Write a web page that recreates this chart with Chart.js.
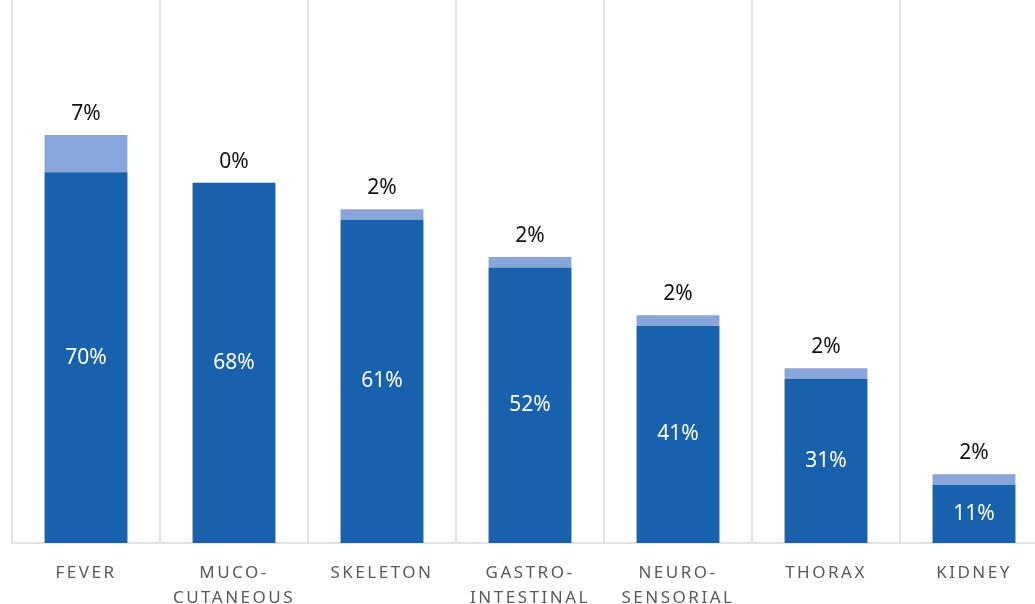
<!DOCTYPE html>
<html>
<head>
<meta charset="utf-8">
<script src="https://cdn.jsdelivr.net/npm/chart.js@4"></script>
<style>
  body { margin: 0; background: #fff; overflow: hidden; }
  #wrap { width: 1060px; height: 604px; position: relative; }
</style>
</head>
<body>
<div id="wrap"><canvas id="chart"></canvas></div>
<script>
// categories + values (percent)
const categories = [['FEVER'], ['MUCO-', 'CUTANEOUS'], ['SKELETON'], ['GASTRO-', 'INTESTINAL'], ['NEURO-', 'SENSORIAL'], ['THORAX'], ['KIDNEY']];
const mainValues = [70, 68, 61, 52, 41, 31, 11];
const extraValues = [7, 0, 2, 2, 2, 2, 2];

const darkBlue = '#1862ad';
const lightBlue = '#88a6da';
const gridGray = '#e3e3e3';

// letter spacing only for the axis labels
const spacing = {
    id: 'spacing',
    beforeDraw(chart) { chart.ctx.letterSpacing = '2.5px'; },
    beforeDatasetsDraw(chart) { chart.ctx.letterSpacing = '0px'; }
};

// value labels: inside for the main part, above for the extra part
const valueLabels = {
    id: 'valueLabels',
    afterDatasetsDraw(chart) {
        const ctx = chart.ctx;
        ctx.save();
        ctx.font = '21px "Noto Sans", sans-serif';
        ctx.textAlign = 'center';
        ctx.textBaseline = 'middle';
        chart.getDatasetMeta(0).data.forEach((bar, i) => {
            ctx.fillStyle = '#ffffff';
            ctx.fillText(mainValues[i] + '%', bar.x, (bar.y + bar.base) / 2);
        });
        chart.getDatasetMeta(1).data.forEach((bar, i) => {
            ctx.fillStyle = '#111111';
            ctx.fillText(extraValues[i] + '%', bar.x, bar.y - 21);
        });
        ctx.restore();
    }
};

new Chart(document.getElementById('chart'), {
    type: 'bar',
    data: {
        labels: categories,
        datasets: [
            { data: mainValues, backgroundColor: darkBlue, barPercentage: 0.56, categoryPercentage: 1 },
            { data: extraValues, backgroundColor: lightBlue, barPercentage: 0.56, categoryPercentage: 1 }
        ]
    },
    options: {
        responsive: true,
        maintainAspectRatio: false,
        animation: false,
        layout: { padding: { left: 12, right: 12, top: 0, bottom: 0 } },
        plugins: {
            legend: { display: false },
            tooltip: { enabled: false }
        },
        scales: {
            x: {
                stacked: true,
                afterFit: s => { s.height = 61; },
                grid: { color: gridGray, lineWidth: 2, drawTicks: false, offset: true },
                border: { color: gridGray, width: 2 },
                ticks: {
                    color: '#595959',
                    padding: 17,
                    font: { family: '"Noto Sans", sans-serif', size: 17, lineHeight: 1.5 },
                    maxRotation: 0,
                    autoSkip: false
                }
            },
            y: {
                stacked: true,
                display: false,
                min: 0,
                max: 102.5
            }
        }
    },
    plugins: [spacing, valueLabels]
});
</script>
</body>
</html>
